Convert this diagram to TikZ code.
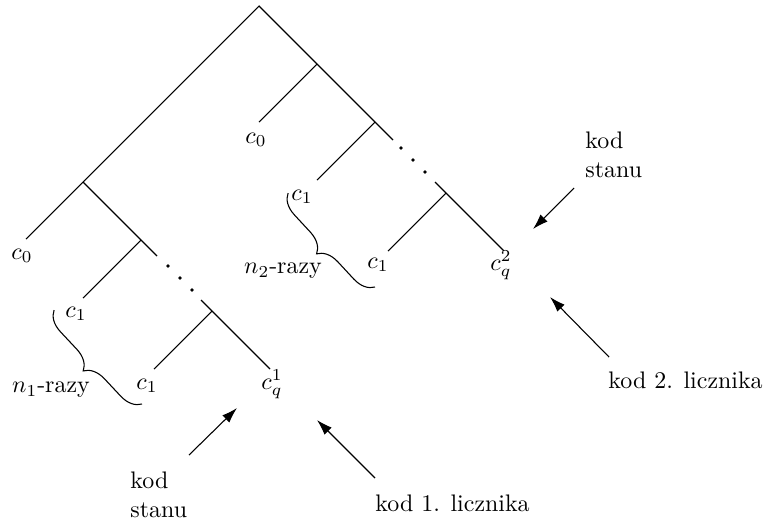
\documentclass[tikz,border=0pt]{standalone}
\usetikzlibrary{decorations.pathreplacing,arrows.meta}
\begin{document}
\begin{tikzpicture}[x=0.418pt,y=-0.418pt,
  edge/.style={line width=0.45pt},
  leaflabel/.style={inner sep=0pt},
  dotmark/.style={circle,fill=black,inner sep=0pt,minimum size=1.5pt},
  pointer/.style={line width=0.45pt,-{Latex[length=6.5pt,width=4.2pt]}},
  bracemark/.style={line width=0.45pt,decorate,decoration={brace,amplitude=8.5pt,aspect=0.5}},
  note/.style={inner sep=0pt,align=left,anchor=base west}]
\useasboundingbox (0,0) rectangle (765,520);

% tree vertices
\coordinate (root) at (259,6);
% left subtree
\coordinate (a)    at (83,182);
\coordinate (a0)   at (26,239);
\coordinate (b)    at (141,240);
\coordinate (b1)   at (83,298);
\coordinate (bcut) at (157,256);
\coordinate (ccut) at (201,300);
\coordinate (c)    at (212,311);
\coordinate (c1)   at (154,369);
\coordinate (cq)   at (270,369);
% right subtree
\coordinate (d)    at (317,64);
\coordinate (d0)   at (259,122);
\coordinate (e)    at (375,122);
\coordinate (e1)   at (317,180);
\coordinate (ecut) at (393,140);
\coordinate (fcut) at (435,182);
\coordinate (f)    at (446,193);
\coordinate (f1)   at (388,251);
\coordinate (fq)   at (504,251);

% edges
\draw[edge] (a0) -- (a) -- (root) -- (d) -- (e) -- (ecut);
\draw[edge] (a) -- (b) -- (bcut);
\draw[edge] (b) -- (b1);
\draw[edge] (ccut) -- (c) -- (cq);
\draw[edge] (c) -- (c1);
\draw[edge] (d) -- (d0);
\draw[edge] (e) -- (e1);
\draw[edge] (fcut) -- (f) -- (fq);
\draw[edge] (f) -- (f1);

% ellipsis dots
\node[dotmark] (ldot1) at (168,266) {};
\node[dotmark] (ldot2) at (180,278) {};
\node[dotmark] (ldot3) at (192,290) {};
\node[dotmark] (rdot1) at (401,148) {};
\node[dotmark] (rdot2) at (413,160) {};
\node[dotmark] (rdot3) at (425,172) {};

% leaf labels
\node[leaflabel] (la0) at (22,256)  {$c_0$};
\node[leaflabel] (lb1) at (76,314)  {$c_1$};
\node[leaflabel] (lc1) at (147,386) {$c_1$};
\node[leaflabel] (lcq) at (272,384) {$c_q^1$};
\node[leaflabel] (ld0) at (256,140) {$c_0$};
\node[leaflabel] (le1) at (302,197) {$c_1$};
\node[leaflabel] (lf1) at (378,265) {$c_1$};
\node[leaflabel] (lfq) at (501,265) {$c_q^2$};

% braces
\coordinate (br1a) at (142,404);
\coordinate (br1b) at (54,310);
\coordinate (br2a) at (375,287);
\coordinate (br2b) at (288,193);
\draw[bracemark] (br1a) -- (br1b);
\draw[bracemark] (br2a) -- (br2b);
\node[leaflabel] (n1) at (51,390)  {$n_1$-razy};
\node[leaflabel] (n2) at (283,271) {$n_2$-razy};

% annotations (base anchor sits on the last line)
\node[note] (st1)  at (130,517) {kod\\stanu};
\node[note] (lic1) at (375,511) {kod 1. licznika};
\node[note] (st2)  at (585,177) {kod\\stanu};
\node[note] (lic2) at (608,388) {kod 2. licznika};

% pointers
\coordinate (p1s) at (189,455); \coordinate (p1e) at (237,408);
\coordinate (p2s) at (375,478); \coordinate (p2e) at (317,420);
\coordinate (p3s) at (574,188); \coordinate (p3e) at (533,229);
\coordinate (p4s) at (609,357); \coordinate (p4e) at (550,297);
\draw[pointer] (p1s) -- (p1e);
\draw[pointer] (p2s) -- (p2e);
\draw[pointer] (p3s) -- (p3e);
\draw[pointer] (p4s) -- (p4e);
\end{tikzpicture}
\end{document}
